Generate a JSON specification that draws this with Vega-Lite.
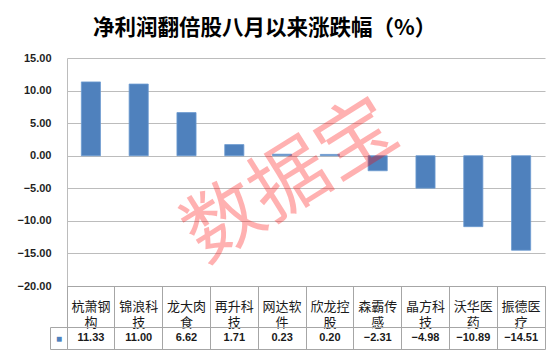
{
  "$schema": "https://vega.github.io/schema/vega-lite/v6.json",
  "padding": {"left": 17, "top": 17, "right": 17, "bottom": 9},
  "background": "white",
  "bounds": "flush",
  "spacing": 0,
  "config": {"view": {"stroke": null}},
  "datasets": {
    "stocks": [
      {"name": "杭萧钢构", "pct": 11.33},
      {"name": "锦浪科技", "pct": 11.00},
      {"name": "龙大肉食", "pct": 6.62},
      {"name": "再升科技", "pct": 1.71},
      {"name": "网达软件", "pct": 0.23},
      {"name": "欣龙控股", "pct": 0.20},
      {"name": "森霸传感", "pct": -2.31},
      {"name": "晶方科技", "pct": -4.98},
      {"name": "沃华医药", "pct": -10.89},
      {"name": "振德医疗", "pct": -14.51}
    ]
  },
  "vconcat": [
    {
      "width": 478,
      "height": 228,
      "title": {
        "text": "净利润翻倍股八月以来涨跌幅（%）",
        "anchor": "start",
        "frame": "group",
        "dx": 26,
        "offset": 13,
        "font": "Noto Sans CJK SC",
        "fontSize": 21.5,
        "fontWeight": "bold",
        "color": "#000000"
      },
      "layer": [
        {
          "data": {"name": "stocks"},
          "mark": {"type": "bar", "color": "#4F81BD", "stroke": "#6C9AD0", "strokeWidth": 0.8},
          "encoding": {
            "x": {"field": "name", "type": "nominal", "sort": null, "scale": {"type": "band", "paddingInner": 0.6, "paddingOuter": 0.3}, "axis": null},
            "y": {
              "field": "pct",
              "type": "quantitative",
              "scale": {"domain": [-20, 15], "nice": false, "zero": false},
              "axis": {
                "values": [-20, -15, -10, -5, 0, 5, 10, 15],
                "tickCount": 8,
                "format": ".2f",
                "labelOverlap": false,
                "grid": true,
                "gridColor": "#BCBCBC",
                "gridWidth": 1.2,
                "domain": true,
                "domainColor": "#BCBCBC",
                "ticks": false,
                "labelPadding": 16,
                "labelFont": "Liberation Sans",
                "labelFontSize": 11,
                "labelFontWeight": "bold",
                "labelColor": "#1F1F1F",
                "title": null
              }
            }
          }
        },
        {
          "data": {"values": [{"wm": "数据宝"}]},
          "mark": {"type": "text", "angle": -32, "fontSize": 78, "font": "Noto Sans CJK SC", "color": "#FF0000", "opacity": 0.3, "align": "center", "baseline": "middle", "dx": 11},
          "encoding": {
            "x": {"datum": "网达软件", "type": "nominal"},
            "y": {
              "datum": -5.0,
              "type": "quantitative",
              "axis": {
                "values": [-20, -15, -10, -5, 0, 5, 10, 15],
                "tickCount": 8,
                "format": ".2f",
                "labelOverlap": false,
                "grid": true,
                "gridColor": "#BCBCBC",
                "gridWidth": 1.2,
                "domain": true,
                "domainColor": "#BCBCBC",
                "ticks": false,
                "labelPadding": 16,
                "labelFont": "Liberation Sans",
                "labelFontSize": 11,
                "labelFontWeight": "bold",
                "labelColor": "#1F1F1F",
                "title": null
              }
            },
            "text": {"field": "wm"}
          }
        }
      ]
    },
    {
      "width": 478,
      "height": 41,
      "view": {"stroke": "#A6A6A6"},
      "data": {"name": "stocks"},
      "transform": [{"calculate": "substring(datum.name, 0, 3) + '\\n' + substring(datum.name, 3)", "as": "label"}],
      "mark": {"type": "text", "lineBreak": "\n", "lineHeight": 16, "fontSize": 13, "font": "Noto Sans CJK SC", "color": "#1A1A1A", "baseline": "middle"},
      "encoding": {
        "x": {"field": "name", "type": "nominal", "sort": null, "scale": {"type": "band", "paddingInner": 0, "paddingOuter": 0},
          "axis": {"grid": true, "bandPosition": 0, "gridColor": "#A6A6A6", "labels": false, "ticks": false, "domain": false, "title": null}},
        "text": {"field": "label"}
      }
    },
    {
      "width": 478,
      "height": 22,
      "view": {"stroke": "#A6A6A6"},
      "data": {"name": "stocks"},
      "mark": {"type": "text", "fontSize": 11, "fontWeight": "bold", "font": "Liberation Sans", "color": "#1A1A1A", "baseline": "middle"},
      "encoding": {
        "x": {"field": "name", "type": "nominal", "sort": null, "scale": {"type": "band", "paddingInner": 0, "paddingOuter": 0},
          "axis": {"grid": true, "bandPosition": 0, "gridColor": "#A6A6A6", "labels": false, "ticks": false, "domain": false, "title": null}},
        "y": {"datum": "■", "type": "nominal", "scale": {"type": "band", "paddingInner": 0, "paddingOuter": 0},
          "axis": {"orient": "left", "offset": 17, "tickBand": "extent", "tickSize": -17, "ticks": true, "tickColor": "#A6A6A6",
            "domain": true, "domainColor": "#A6A6A6", "grid": false, "labelColor": "#4F81BD", "labelFontSize": 10,
            "labelOffset": 0, "labelAlign": "center", "labelBaseline": "middle", "labelPadding": 8.5, "title": null}},
        "text": {"field": "pct", "type": "quantitative", "format": ".2f"}
      }
    }
  ]
}
